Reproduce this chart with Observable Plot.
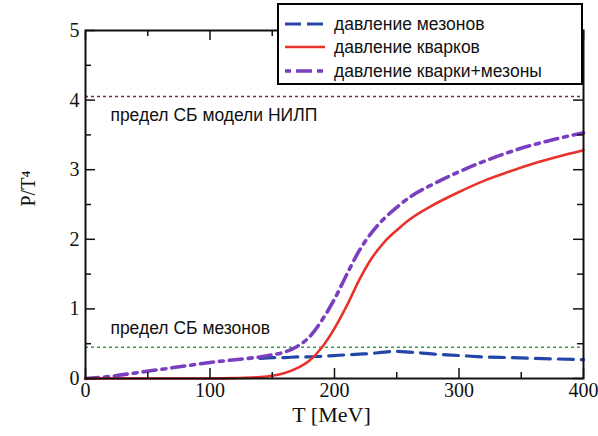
<!DOCTYPE html>
<html>
<head>
<meta charset="utf-8">
<script src="https://cdn.jsdelivr.net/npm/d3@7"></script>
<script src="https://cdn.jsdelivr.net/npm/@observablehq/plot@0.6"></script>
<style>
  body { margin: 0; background: #fff; }
  #wrap { position: relative; width: 598px; height: 436px; }
  #legend { position: absolute; left: 277px; top: 3px; width: 302px; height: 78px;
    border: 2px solid #000; background: #fff; font-family: "Liberation Sans", Arial, sans-serif; font-size: 17.5px; color: #111; }
  .row { position: absolute; left: 0; height: 20px; display: flex; align-items: center; }
  .row svg { margin-left: 5px; margin-right: 8px; }
</style>
</head>
<body>
<div id="wrap"><div id="chart"></div><div id="legend"></div></div>
<script>
// Temperature grid (MeV)
const temps =  [0, 20, 40, 60, 80, 100, 120, 140, 150, 160, 170, 180, 190, 200, 210, 220, 230, 240, 250, 260, 280, 300, 320, 340, 360, 380, 400];
// P/T^4 for mesons (visible part only; hidden under the sum curve below ~130 MeV)
const mesons = [null, null, null, null, null, null, null, .29, .30, .30, .31, .31, .32, .33, .34, .35, .36, .38, .39, .38, .35, .33, .31, .30, .29, .28, .27];
// P/T^4 for quarks
const quarks = [0, 0, 0, 0, 0, 0, .005, .02, .04, .08, .15, .26, .45, .72, 1.05, 1.42, 1.73, 1.96, 2.13, 2.28, 2.5, 2.68, 2.84, 2.97, 3.09, 3.19, 3.28];
// P/T^4 quarks + mesons
const total =  [0, .03, .08, .13, .18, .23, .27, .31, .34, .38, .46, .6, .84, 1.14, 1.5, 1.84, 2.1, 2.3, 2.46, 2.6, 2.8, 2.97, 3.12, 3.25, 3.36, 3.45, 3.53];

const seriesNames = ["давление мезонов", "давление кварков", "давление кварки+мезоны"];
const limitNames = ["предел СБ модели НИЛП", "предел СБ мезонов"];
const limitValues = [4.05, 0.45];
const limitLabelPos = [{x: 20, y: 3.78}, {x: 20, y: 0.72}];

const xMajor = [0, 100, 200, 300, 400];
const xMinor = [50, 150, 250, 350];
const yMajor = [0, 1, 2, 3, 4, 5];
const yMinor = [0.5, 1.5, 2.5, 3.5, 4.5];

const colors = {meson: "#2446a8", quark: "#e8322a", total: "#7a3fc0", limTop: "#7a2a40", limLow: "#3a9a4a"};
const styles = [
  {stroke: colors.meson, strokeWidth: 3.2, dash: "15,8"},
  {stroke: colors.quark, strokeWidth: 2.6, dash: null},
  {stroke: colors.total, strokeWidth: 3.6, dash: "13,6,4,6"}
];

const rows = (ys) => temps.map((t, i) => ({t, v: ys[i]}));
const W = 598, H = 436, mL = 85, mR = 15, mT = 30, mB = 58;
const ph = H - mT - mB, pw = W - mL - mR;

const chart = Plot.plot({
  width: W, height: H,
  marginLeft: mL, marginRight: mR, marginTop: mT, marginBottom: mB,
  style: {fontFamily: "Liberation Serif, serif", fontSize: "20px", color: "#111", background: "#fff"},
  x: {domain: [0, 400]},
  y: {domain: [0, 5]},
  marks: [
    Plot.ruleY([limitValues[0]], {y: d => d, stroke: colors.limTop, strokeWidth: 1.5, strokeDasharray: "3,3"}),
    Plot.ruleY([limitValues[1]], {y: d => d, stroke: colors.limLow, strokeWidth: 1.5, strokeDasharray: "3,3"}),
    Plot.text(limitNames, {x: (d, i) => limitLabelPos[i].x, y: (d, i) => limitLabelPos[i].y, text: d => d, textAnchor: "start",
      fontFamily: "Liberation Sans, Arial, sans-serif", fontSize: 17.5, fill: "#111"}),
    Plot.line(rows(mesons), {x: "t", y: "v", stroke: styles[0].stroke, strokeWidth: styles[0].strokeWidth, strokeDasharray: styles[0].dash, curve: "monotone-x"}),
    Plot.line(rows(total), {x: "t", y: "v", stroke: styles[2].stroke, strokeWidth: styles[2].strokeWidth, strokeDasharray: styles[2].dash, curve: "monotone-x"}),
    Plot.line(rows(quarks), {x: "t", y: "v", stroke: styles[1].stroke, strokeWidth: styles[1].strokeWidth, curve: "monotone-x"}),
    // inward ticks, all four sides
    Plot.ruleX(xMajor, {x: d => d, insetTop: ph - 10, stroke: "#111", strokeWidth: 1.5}),
    Plot.ruleX(xMinor, {x: d => d, insetTop: ph - 6, stroke: "#111", strokeWidth: 1.5}),
    Plot.ruleX(xMajor, {x: d => d, insetBottom: ph - 10, stroke: "#111", strokeWidth: 1.5}),
    Plot.ruleX(xMinor, {x: d => d, insetBottom: ph - 6, stroke: "#111", strokeWidth: 1.5}),
    Plot.ruleY(yMajor, {y: d => d, insetRight: pw - 10, stroke: "#111", strokeWidth: 1.5}),
    Plot.ruleY(yMinor, {y: d => d, insetRight: pw - 6, stroke: "#111", strokeWidth: 1.5}),
    Plot.ruleY(yMajor, {y: d => d, insetLeft: pw - 10, stroke: "#111", strokeWidth: 1.5}),
    Plot.ruleY(yMinor, {y: d => d, insetLeft: pw - 6, stroke: "#111", strokeWidth: 1.5}),
    Plot.frame({stroke: "#111", strokeWidth: 2}),
    Plot.axisX(xMajor, {tickSize: 0, tickPadding: 4, label: null, tickFormat: d => String(d), fontSize: 20}),
    Plot.axisY(yMajor, {tickSize: 0, tickPadding: 6, label: null, tickFormat: d => String(d), fontSize: 20}),
    Plot.text(["T [MeV]"], {frameAnchor: "bottom", dy: 36, dx: -3, fontSize: 22, lineAnchor: "middle"}),
    Plot.text(["P/T⁴"], {frameAnchor: "left", dx: -57, dy: 2, rotate: -90, fontSize: 20})
  ]
});
document.getElementById("chart").appendChild(chart);

// Legend
const leg = document.getElementById("legend");
const rowTops = [9, 32, 56];
seriesNames.forEach((name, i) => {
  const s = styles[i];
  const r = document.createElement("div");
  r.className = "row";
  r.style.top = rowTops[i] + "px";
  r.innerHTML = `<svg width="42" height="20"><line x1="1" y1="10" x2="41" y2="10" stroke="${s.stroke}" stroke-width="${s.strokeWidth}" ${s.dash ? `stroke-dasharray="${i === 0 ? "16,6" : "6,5,16,5"}"` : ""}/></svg><span>${name}</span>`;
  leg.appendChild(r);
});
</script>
</body>
</html>
